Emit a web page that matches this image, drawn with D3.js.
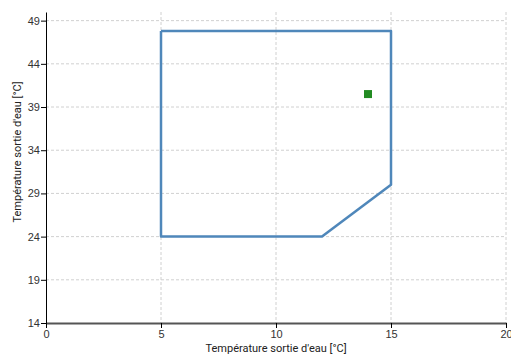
<!DOCTYPE html>
<html>
<head>
<meta charset="utf-8">
<script src="https://cdn.jsdelivr.net/npm/d3@7"></script>
<style>
  body { margin: 0; background: #fff; }
  svg { font-family: Roboto, sans-serif; }
  .grid line { stroke: #d0d0d0; stroke-dasharray: 3,2; }
  .axis text { font-size: 11px; fill: #333; }
  .axis-title { font-size: 11px; fill: #222; }
</style>
</head>
<body>
<svg id="chart"></svg>
<script>
// Envelope polygon (x: °C, y: °C)
const envX = [5, 15, 15, 12, 5, 5];
const envY = [47.8, 47.8, 30, 24, 24, 47.8];
// Operating point
const pointX = [14];
const pointY = [40.5];
const xTicks = [0, 5, 10, 15, 20];
const yTicks = [14, 19, 24, 29, 34, 39, 44, 49];
const xTitle = "Température sortie d'eau [°C]";
const yTitle = "Température sortie d'eau [°C]";

const width = 511, height = 354;
const margin = {top: 12, right: 5, bottom: 31, left: 46};
const w = width - margin.left - margin.right;
const h = height - margin.top - margin.bottom;

const svg = d3.select('#chart').attr('width', width).attr('height', height);
const g = svg.append('g').attr('transform', `translate(${margin.left},${margin.top})`);

const x = d3.scaleLinear().domain([0, 20]).range([0, w]);
const y = d3.scaleLinear().domain([14, 50]).range([h, 0]);

// grid
const grid = g.append('g').attr('class', 'grid');
grid.selectAll('.gy').data(yTicks.slice(1)).join('line')
    .attr('x1', 0).attr('x2', w)
    .attr('y1', d => y(d)).attr('y2', d => y(d));
grid.selectAll('.gx').data(xTicks.slice(1)).join('line')
    .attr('x1', d => x(d)).attr('x2', d => x(d))
    .attr('y1', y(50)).attr('y2', h);

// axes
const xAxisG = g.append('g').attr('class', 'axis')
    .attr('transform', `translate(0,${h})`)
    .call(d3.axisBottom(x).tickValues(xTicks).tickSize(5).tickPadding(2).tickSizeOuter(0));
xAxisG.select('.domain').attr('stroke', '#555').attr('stroke-width', 2);

const yAxisG = g.append('g').attr('class', 'axis')
    .call(d3.axisLeft(y).tickValues(yTicks).tickSize(5).tickPadding(1).tickSizeOuter(0));
yAxisG.select('.domain').attr('stroke', '#000');

// envelope
const env = envX.map((d, i) => [d, envY[i]]);
g.append('path')
    .datum(env)
    .attr('fill', 'none')
    .attr('stroke', '#4f87ba')
    .attr('stroke-width', 2.5)
    .attr('stroke-linejoin', 'round')
    .attr('d', d3.line().x(d => x(d[0])).y(d => y(d[1])));

// point
g.selectAll('.pt').data(pointX.map((d, i) => [d, pointY[i]])).join('rect')
    .attr('x', d => x(d[0]) - 4).attr('y', d => y(d[1]) - 4)
    .attr('width', 8).attr('height', 8)
    .attr('fill', '#228b22');

// titles
svg.append('text').attr('class', 'axis-title')
    .attr('x', margin.left + w / 2).attr('y', 352)
    .attr('text-anchor', 'middle')
    .text(xTitle);
svg.append('text').attr('class', 'axis-title')
    .attr('transform', `translate(21,152) rotate(-90)`)
    .attr('text-anchor', 'middle')
    .text(yTitle);
</script>
</body>
</html>
